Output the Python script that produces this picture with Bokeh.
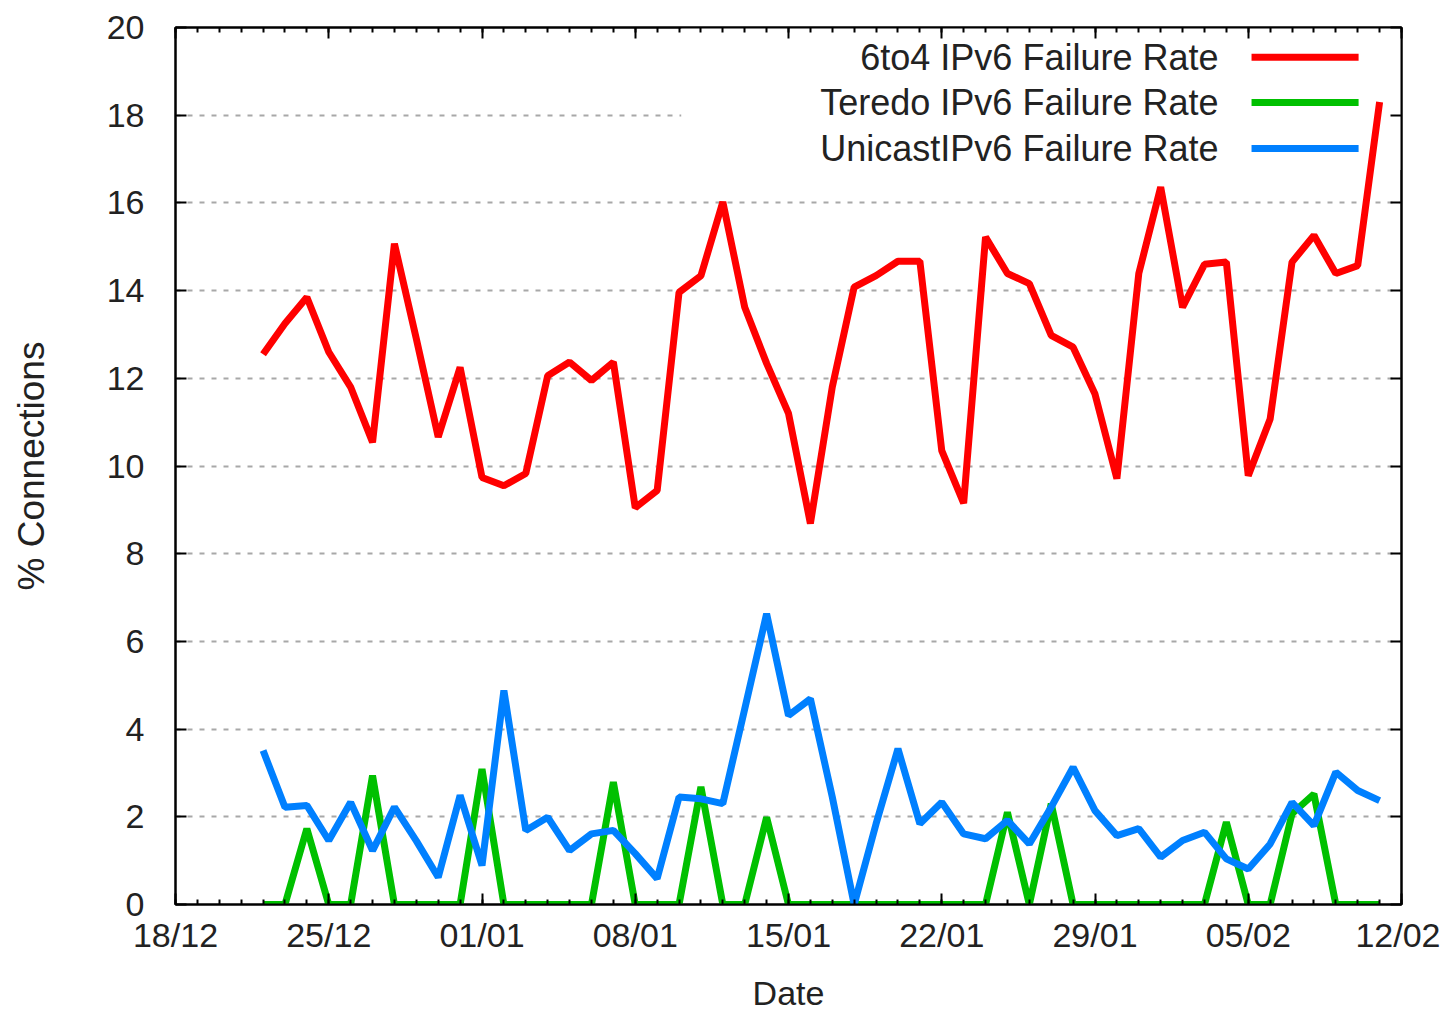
from datetime import datetime, timedelta
from bokeh.plotting import figure
from bokeh.models import (FixedTicker, DatetimeTickFormatter, DatetimeAxis, LinearAxis,
                          BoxAnnotation, Label, Range1d, ColumnDataSource, CustomJSTickFormatter)
from bokeh.embed import file_html
from bokeh.resources import INLINE

# ---------------- data ----------------
first_date = datetime(2010, 12, 22)
n_days = 52
dates = [first_date + timedelta(days=i) for i in range(n_days)]

rate_6to4 = [12.55, 13.25, 13.85, 12.6, 11.8, 10.54, 15.07, 12.9, 10.66, 12.25,
             9.74, 9.55, 9.83, 12.06, 12.37, 11.95, 12.37, 9.05, 9.44, 13.96,
             14.34, 16.02, 13.62, 12.34, 11.2, 8.69, 11.8, 14.08, 14.34, 14.67,
             14.67, 10.35, 9.15, 15.22, 14.39, 14.16, 12.98, 12.71, 11.64, 9.71,
             14.39, 16.36, 13.62, 14.6, 14.65, 9.78, 11.07, 14.65, 15.26, 14.39,
             14.57, 18.3]

rate_teredo = [0, 0, 1.73, 0, 0, 2.94, 0, 0, 0, 0,
               3.09, 0, 0, 0, 0, 0, 2.79, 0, 0, 0,
               2.68, 0, 0, 1.99, 0, 0, 0, 0, 0, 0,
               0, 0, 0, 0, 2.1, 0, 2.3, 0, 0, 0,
               0, 0, 0, 0, 1.88, 0, 0, 2.07, 2.52, 0,
               0, 0]

rate_unicast = [3.51, 2.22, 2.26, 1.46, 2.33, 1.23, 2.22, 1.45, 0.62, 2.49,
                0.89, 4.88, 1.69, 1.99, 1.23, 1.61, 1.69, 1.16, 0.59, 2.45,
                2.41, 2.3, 4.46, 6.63, 4.31, 4.69, 2.45, 0.0, 1.84, 3.55,
                1.84, 2.33, 1.61, 1.5, 1.92, 1.38, 2.22, 3.13, 2.14, 1.57,
                1.73, 1.08, 1.46, 1.65, 1.04, 0.81, 1.38, 2.33, 1.8, 3.02,
                2.6, 2.37]

series_names = ["6to4 IPv6 Failure Rate", "Teredo IPv6 Failure Rate", "UnicastIPv6 Failure Rate"]
series_colors = ["#ff0000", "#00c000", "#0080ff"]

x_start = datetime(2010, 12, 18)
x_end = datetime(2011, 2, 12)
y_ticks = list(range(0, 21, 2))

# ---------------- helpers ----------------
EPOCH = datetime(1970, 1, 1)


def ms(d):
    return (d - EPOCH).total_seconds() * 1000.0


def day_pos(days):
    return x_start + timedelta(days=days)


major_x = [ms(day_pos(7 * k)) for k in range(9)]
minor_x = [ms(day_pos(k)) for k in range(57)]

FONT = "Liberation Sans"
FS = "34px"
TXT = "#222222"

p = figure(width=1440, height=1015, output_backend="svg", toolbar_location=None,
           x_axis_type="datetime",
           x_range=Range1d(ms(x_start), ms(x_end)), y_range=Range1d(0, 20),
           min_border_left=175, min_border_right=39, min_border_top=27, min_border_bottom=111)
p.background_fill_color = "white"
p.border_fill_color = "white"
p.outline_line_color = "black"
p.outline_line_width = 2

fmt = DatetimeTickFormatter(milliseconds="%d/%m", seconds="%d/%m", minsec="%d/%m",
                            minutes="%d/%m", hourmin="%d/%m", hours="%d/%m",
                            days="%d/%m", months="%d/%m", years="%d/%m")
blank_fmt = CustomJSTickFormatter(code="return ''")
xticker = FixedTicker(ticks=major_x, minor_ticks=minor_x)
yticker = FixedTicker(ticks=y_ticks, minor_ticks=[])


def style_axis(ax):
    ax.axis_line_color = "black"
    ax.axis_line_width = 2
    ax.major_tick_line_color = "black"
    ax.major_tick_line_width = 2
    ax.minor_tick_line_color = "black"
    ax.minor_tick_line_width = 2
    ax.major_tick_in = 11
    ax.major_tick_out = 0
    ax.minor_tick_in = 5
    ax.minor_tick_out = 0
    ax.major_label_text_font = FONT
    ax.major_label_text_color = TXT
    ax.major_label_text_font_size = FS


# bottom axis
xa = p.xaxis[0]
xa.ticker = xticker
xa.formatter = fmt
style_axis(xa)
xa.major_label_standoff = 11
xa.axis_label = "Date"
xa.axis_label_text_font = FONT
xa.axis_label_text_font_size = FS
xa.axis_label_text_font_style = "normal"
xa.axis_label_text_color = TXT
xa.axis_label_standoff = 17

# left axis
ya = p.yaxis[0]
ya.ticker = yticker
style_axis(ya)
ya.minor_tick_in = 0
ya.major_label_standoff = 31
ya.axis_label = "% Connections"
ya.axis_label_text_font = FONT
ya.axis_label_text_font_size = "37px"
ya.axis_label_text_font_style = "normal"
ya.axis_label_text_color = TXT
ya.axis_label_standoff = 52

# mirror axes (ticks only)
top_ax = DatetimeAxis(ticker=xticker, formatter=blank_fmt)
style_axis(top_ax)
top_ax.major_label_standoff = 0
p.add_layout(top_ax, "above")
right_ax = LinearAxis(ticker=yticker, formatter=blank_fmt)
style_axis(right_ax)
right_ax.minor_tick_in = 0
right_ax.major_label_standoff = 0
p.add_layout(right_ax, "right")

# grid
p.xgrid.visible = False
p.ygrid.ticker = yticker
p.ygrid.grid_line_color = "#a8a8a8"
p.ygrid.grid_line_width = 2
p.ygrid.grid_line_dash = "5 7"

# opaque key background
key_bg = BoxAnnotation(left=ms(day_pos(23.1)), right=ms(x_end), bottom=16.75, top=20,
                       fill_color="white", fill_alpha=1.0, line_color=None, level="underlay")
p.add_layout(key_bg)

# series
src = ColumnDataSource(dict(date=dates, s6to4=rate_6to4, teredo=rate_teredo, unicast=rate_unicast))
for col, color in zip(["s6to4", "teredo", "unicast"], series_colors):
    p.line("date", col, source=src, line_color=color, line_width=7)

# key (text right-aligned, sample line on the right)
key_rows_y = [19.32, 18.29, 17.24]
key_text_x = day_pos(47.64)
key_line_x0 = day_pos(49.15)
key_line_x1 = day_pos(54.04)
for name, color, yy in zip(series_names, series_colors, key_rows_y):
    p.add_layout(Label(x=ms(key_text_x), y=yy, text=name, text_align="right",
                       text_baseline="middle", text_font=FONT, text_font_size="36px",
                       text_color=TXT))
p.segment(x0=[key_line_x0] * 3, y0=key_rows_y, x1=[key_line_x1] * 3, y1=key_rows_y,
          line_color=series_colors, line_width=7)

open("out.html", "w").write(file_html(p, INLINE))
